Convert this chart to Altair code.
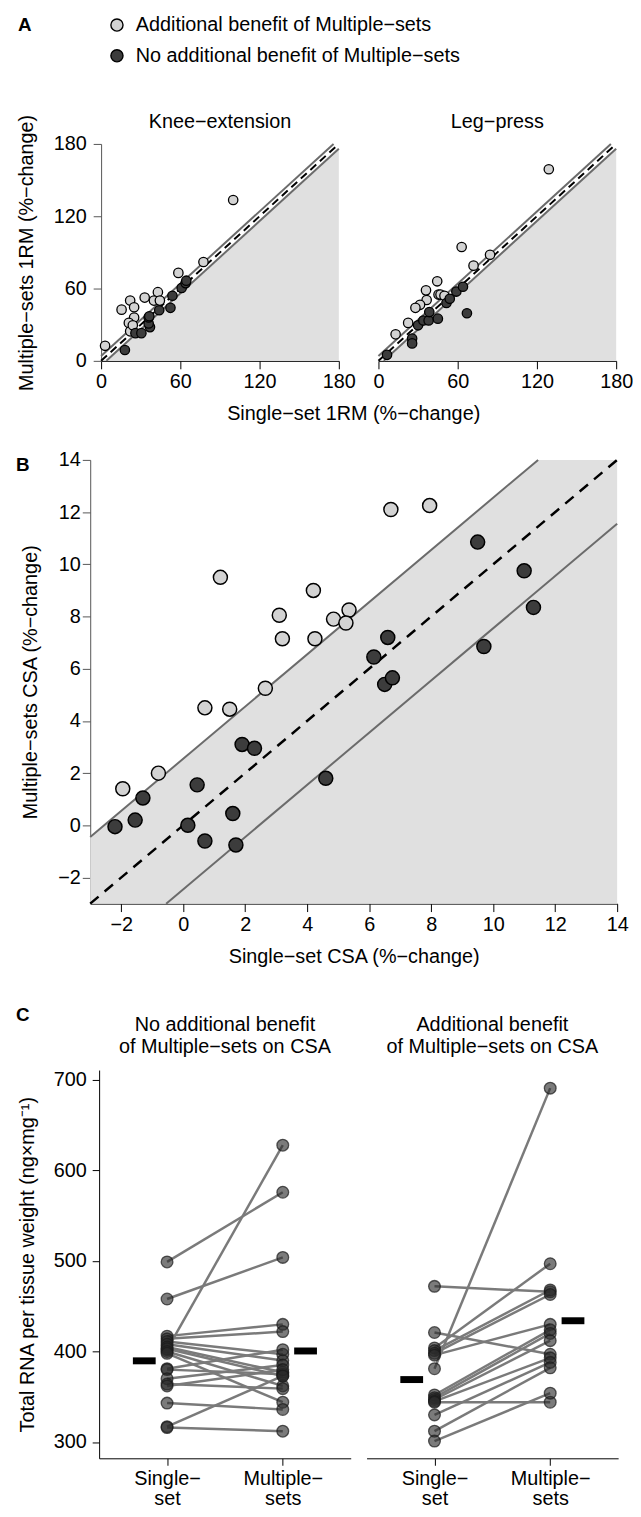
import altair as alt
import pandas as pd

FONT = "Liberation Sans"
LIGHT = "#d3d3d3"
DARK = "#3c3c3c"
SHADE = "#e0e0e0"
BANDLINE = "#6b6b6b"
AXIS_Y = "#555555"

GROUPS = ["Additional benefit of Multiple−sets", "No additional benefit of Multiple−sets"]

# ---------------- Panel A: 1RM (%-change) ----------------
knee_benefit_single = [3, 15.5, 22, 25, 25, 21, 22, 24, 33, 43, 40, 44.5, 58.5, 77.5, 100]
knee_benefit_multiple = [12.5, 42.5, 50, 44.5, 36, 31.5, 24.5, 29.5, 52.5, 57, 50, 50, 73, 82, 133.5]
knee_nobenefit_single = [18, 26, 30.5, 37, 36, 36, 36.5, 44, 52.5, 54, 61, 64, 64.5]
knee_nobenefit_multiple = [9, 23, 23, 28, 31, 36, 37, 42, 44, 54, 60.5, 64.5, 66.5]

leg_benefit_single = [129, 63, 84.5, 72, 44.5, 36, 45.5, 47, 50, 36.5, 31.5, 28, 22.5, 13]
leg_benefit_multiple = [159, 94.5, 88, 79, 66, 58.5, 55, 55, 54, 50.5, 46.5, 44, 31.5, 22]
leg_nobenefit_single = [6.5, 25.5, 25.5, 30, 34, 38, 38.5, 45, 51.5, 54, 59, 64, 67]
leg_nobenefit_multiple = [5, 18.5, 14.5, 29.5, 33.5, 33.5, 40.5, 35, 48, 51.5, 57.5, 61.5, 39.5]

onerm_ticks = [0, 60, 120, 180]
onerm_band = 4

# ---------------- Panel B: CSA (%-change) ----------------
csa_benefit_single = [6.7, 7.95, 1.2, 4.2, 3.1, 4.85, 5.35, 5.25, 3.2, 4.25, 2.65, 0.7, 1.5, -0.8, -1.95]
csa_benefit_multiple = [12.1, 12.25, 9.5, 9.0, 8.05, 7.9, 8.25, 7.75, 7.15, 7.15, 5.25, 4.5, 4.45, 2.0, 1.4]
csa_nobenefit_single = [9.5, 11.0, 11.3, 9.7, 6.6, 6.15, 6.5, 6.75, 4.6, 1.9, 2.3, 0.45, -1.3, -1.55,
                        -2.2, 0.15, 1.6, 0.7, 1.7]
csa_nobenefit_multiple = [10.85, 9.75, 8.35, 6.85, 7.2, 6.45, 5.4, 5.65, 1.8, 3.1, 2.95, 1.55, 1.05, 0.2,
                          -0.05, 0.0, 0.45, -0.6, -0.75]
csa_domain = [-3, 14]
csa_ticks = [-2, 0, 2, 4, 6, 8, 10, 12, 14]
csa_upper = 2.55
csa_lower = -2.45

# ---------------- Panel C: total RNA ----------------
conditions = ["Single", "Multiple"]
rna_nobenefit_single = [499, 458, 402, 417, 414, 411, 408, 405, 403, 400, 398, 381, 380, 370, 364, 362, 343, 317, 316]
rna_nobenefit_multiple = [576, 504, 628, 430, 422, 397, 390, 377, 373, 362, 344, 402, 375, 385, 359, 380, 336, 373, 312]
rna_benefit_single = [472, 421, 381, 404, 401, 398, 396, 352, 349, 347, 345, 344, 330, 312, 301]
rna_benefit_multiple = [466, 397, 691, 497, 468, 463, 430, 424, 420, 412, 393, 344, 388, 382, 354]
rna_nobenefit_means = [389.7, 400.6]
rna_benefit_means = [369, 434]
rna_ticks = [300, 400, 500, 600, 700]
rna_domain = [282, 711]


def fill_scale():
    return alt.Fill("g:N", scale=alt.Scale(domain=GROUPS, range=[LIGHT, DARK]), legend=None)


def x_axis(values, **kw):
    return alt.Axis(values=values, tickSize=8, labelPadding=3, labelFlush=False, labelOverlap=False,
                    domainColor="black", tickColor="black", **kw)


def text_layer(txt, x, y, size=20, bold=False, align="left"):
    d = pd.DataFrame({"t": [txt]})
    return alt.Chart(d).mark_text(align=align, baseline="middle", fontSize=size,
                                  fontWeight="bold" if bold else "normal", font=FONT,
                                  color="black").encode(x=alt.value(x), y=alt.value(y), text="t:N")


def strength_panel(name, b_single, b_multi, n_single, n_multi, first):
    pts = pd.DataFrame({
        "x": b_single + n_single,
        "y": b_multi + n_multi,
        "g": [GROUPS[0]] * len(b_single) + [GROUPS[1]] * len(n_single),
    })
    lo, hi = onerm_ticks[0], onerm_ticks[-1]
    c = onerm_band
    shade = pd.DataFrame({"x": [lo + c, hi], "y": [lo, hi - c], "y0": [lo, lo]})
    bands = pd.DataFrame({"x": [lo, hi - c, lo + c, hi], "y": [lo + c, hi, lo, hi - c],
                          "k": ["up", "up", "low", "low"]})
    ident = pd.DataFrame({"x": [lo, hi], "y": [lo, hi]})

    X = alt.X("x:Q", scale=alt.Scale(domain=[lo, hi], nice=False), axis=x_axis(onerm_ticks, title=None))
    if first:
        yaxis = alt.Axis(values=onerm_ticks, title="Multiple−sets 1RM (%−change)", tickSize=8, labelPadding=7,
                         titleX=-75, titleY=109.5, titleBaseline="middle", titleAlign="center",
                         domainColor=AXIS_Y, tickColor=AXIS_Y)
    else:
        yaxis = None
    Y = alt.Y("y:Q", scale=alt.Scale(domain=[lo, hi], nice=False), axis=yaxis)

    layers = [
        alt.Chart(shade).mark_area(color=SHADE, opacity=1).encode(x=X, y=Y, y2="y0:Q"),
        alt.Chart(bands).mark_line(color=BANDLINE, strokeWidth=2).encode(x=X, y=Y, detail="k:N"),
        alt.Chart(ident).mark_line(color="black", strokeWidth=2, strokeDash=[8, 5]).encode(x=X, y=Y),
        alt.Chart(pts).mark_circle(size=90, stroke="black", strokeWidth=1.3, opacity=1).encode(
            x=X, y=Y, fill=fill_scale()),
        text_layer(name, 120, -22, align="center"),
    ]
    if first:
        layers.append(text_layer("A", -84, -120, size=19, bold=True))
        for g, col, yy in zip(GROUPS, [LIGHT, DARK], [-120, -89]):
            d = pd.DataFrame({"t": [g]})
            layers.append(alt.Chart(d).mark_circle(size=150, color=col, stroke="black", strokeWidth=1.4,
                                                   opacity=1).encode(x=alt.value(16), y=alt.value(yy)))
            layers.append(text_layer(g, 35, yy))
        layers.append(text_layer("Single−set 1RM (%−change)", 255, 273, align="center"))
    return alt.layer(*layers).properties(width=240, height=219)


def csa_panel():
    pts = pd.DataFrame({
        "x": csa_benefit_single + csa_nobenefit_single,
        "y": csa_benefit_multiple + csa_nobenefit_multiple,
        "g": [GROUPS[0]] * len(csa_benefit_single) + [GROUPS[1]] * len(csa_nobenefit_single),
    })
    lo, hi = csa_domain
    up, dn = csa_upper, csa_lower
    shade = pd.DataFrame({"x": [lo, hi - up, hi], "y": [lo + up, hi, hi], "y0": [lo, lo, lo]})
    bands = pd.DataFrame({"x": [lo, hi - up, lo - dn, hi], "y": [lo + up, hi, lo, hi + dn],
                          "k": ["up", "up", "low", "low"]})
    ident = pd.DataFrame({"x": [lo, hi], "y": [lo, hi]})
    X = alt.X("x:Q", scale=alt.Scale(domain=csa_domain, nice=False, range=[-11, 521]),
              axis=x_axis(csa_ticks, title="Single−set CSA (%−change)", titleX=255, titleY=53,
                          titleBaseline="middle", titleAlign="center"))
    Y = alt.Y("y:Q", scale=alt.Scale(domain=csa_domain, nice=False),
              axis=alt.Axis(values=csa_ticks, title="Multiple−sets CSA (%−change)", tickSize=8, labelPadding=2,
                            offset=11, titleX=-60, titleY=224, titleBaseline="middle", titleAlign="center",
                            domainColor=AXIS_Y, tickColor=AXIS_Y))
    layers = [
        alt.Chart(shade).mark_area(color=SHADE, opacity=1).encode(x=X, y=Y, y2="y0:Q"),
        alt.Chart(bands).mark_line(color=BANDLINE, strokeWidth=2).encode(x=X, y=Y, detail="k:N"),
        alt.Chart(ident).mark_line(color="black", strokeWidth=2.5, strokeDash=[11, 8]).encode(x=X, y=Y),
        alt.Chart(pts).mark_circle(size=200, stroke="black", strokeWidth=1.5, opacity=1).encode(
            x=X, y=Y, fill=fill_scale()),
        text_layer("B", -86, 5, size=19, bold=True),
    ]
    return alt.layer(*layers).properties(width=521, height=448)


def rna_panel(title_lines, single, multiple, means, first):
    n = len(single)
    long = pd.DataFrame({
        "id": list(range(n)) * 2,
        "cond": [conditions[0]] * n + [conditions[1]] * n,
        "v": single + multiple,
    })
    mdf = pd.DataFrame({"cond": conditions, "v": means})
    if first:
        xscale = alt.Scale(type="point", padding=0.587, range=[-2, 252])
    else:
        xscale = alt.Scale(type="point", padding=0.587)
    X = alt.X("cond:N", sort=conditions, scale=xscale,
              axis=alt.Axis(title=None, labelAngle=0, tickSize=7, labelPadding=3, labelLineHeight=21,
                            labelExpr="datum.value == 'Single' ? ['Single−', 'set'] : ['Multiple−', 'sets']",
                            domainColor="black", tickColor="black"))
    if first:
        yaxis = alt.Axis(values=rna_ticks, title="Total RNA per tissue weight (ng×mg⁻¹)", tickSize=7,
                         labelPadding=6, offset=2, titleX=-72, titleY=196, titleBaseline="middle",
                         titleAlign="center", domainColor="black", tickColor="black")
    else:
        yaxis = None
    Y = alt.Y("v:Q", scale=alt.Scale(domain=rna_domain, nice=False, zero=False), axis=yaxis)
    cx = 125 if first else 127
    layers = [
        alt.Chart(long).mark_line(color="#7a7a7a", strokeWidth=2.5).encode(x=X, y=Y, detail="id:N"),
        alt.Chart(long).mark_circle(size=140, color="#2a2a2a", fillOpacity=0.62, stroke="#1a1a1a",
                                    strokeWidth=1.3, strokeOpacity=0.7, opacity=1).encode(x=X, y=Y),
        alt.Chart(mdf).transform_filter(alt.datum.cond == conditions[0]).mark_tick(
            color="black", thickness=7, size=23, opacity=1, xOffset=-23).encode(x=X, y=Y),
        alt.Chart(mdf).transform_filter(alt.datum.cond == conditions[1]).mark_tick(
            color="black", thickness=7, size=23, opacity=1, xOffset=23).encode(x=X, y=Y),
        text_layer(title_lines[0], cx, -45, align="center"),
        text_layer(title_lines[1], cx, -23, align="center"),
    ]
    if first:
        layers.append(text_layer("C", -86, -56, size=19, bold=True))
        sp = pd.DataFrame({"t": [""]})
        layers.append(alt.Chart(sp).mark_point(opacity=0, size=4).encode(x=alt.value(0), y=alt.value(-78)))
    return alt.layer(*layers).properties(width=252 if first else 254, height=392)


knee = strength_panel("Knee−extension", knee_benefit_single, knee_benefit_multiple,
                      knee_nobenefit_single, knee_nobenefit_multiple, True)
leg = strength_panel("Leg−press", leg_benefit_single, leg_benefit_multiple,
                     leg_nobenefit_single, leg_nobenefit_multiple, False)
rowA = alt.hconcat(knee, leg, spacing=40, bounds="flush")

csa = csa_panel()

cl = rna_panel(["No additional benefit", "of Multiple−sets on CSA"], rna_nobenefit_single,
               rna_nobenefit_multiple, rna_nobenefit_means, True)
cr = rna_panel(["Additional benefit", "of Multiple−sets on CSA"], rna_benefit_single,
               rna_benefit_multiple, rna_benefit_means, False)
rowC = alt.hconcat(cl, cr, spacing=16, bounds="flush")

chart = alt.vconcat(rowA, csa, rowC, spacing=26).properties(
    padding={"left": 8, "top": 0, "right": 0, "bottom": 0}
).configure(font=FONT).configure_axis(
    labelFontSize=20, titleFontSize=20, titleFontWeight="normal", labelColor="black", titleColor="black",
    grid=False, domainWidth=1, tickWidth=1, labelFont=FONT, titleFont=FONT
).configure_view(stroke=None).configure_title(fontSize=20, fontWeight="normal", color="black", font=FONT)

chart.save("out.html", embed_options={"renderer": "svg", "actions": False})
